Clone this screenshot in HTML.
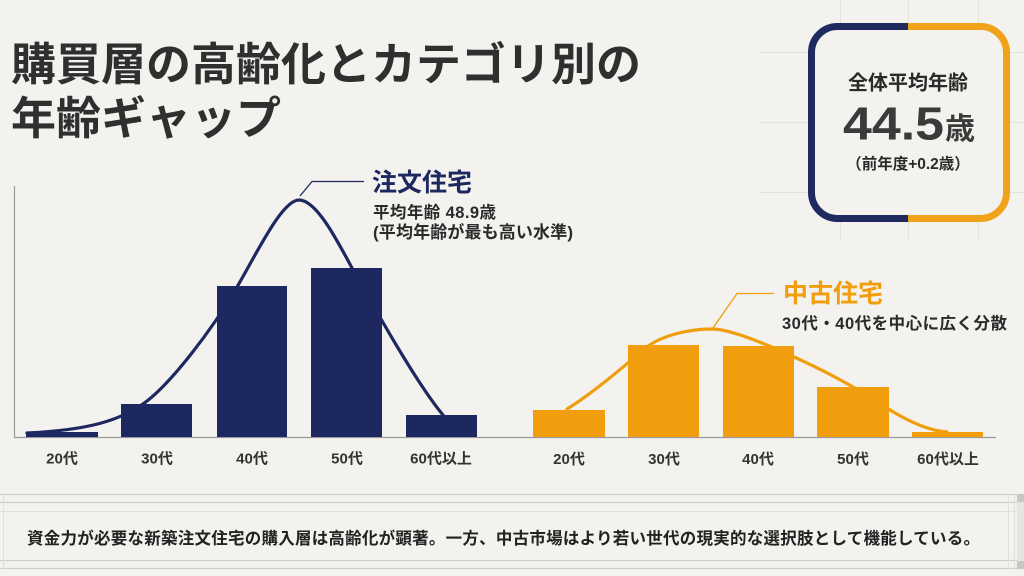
<!DOCTYPE html>
<html lang="ja">
<head>
<meta charset="utf-8">
<style>
  html,body{margin:0;padding:0;}
  body{width:1024px;height:576px;overflow:hidden;background:#f3f2ee;}
  svg{display:block;}
  .t{font-family:"Liberation Sans","Noto Sans CJK JP",sans-serif;font-weight:bold;}
</style>
</head>
<body>
<svg width="1024" height="576" viewBox="0 0 1024 576" xmlns="http://www.w3.org/2000/svg">
  <rect x="0" y="0" width="1024" height="576" fill="#f3f2ee"/>

  <!-- faint background grid near box -->
  <g stroke="#e2e1dc" stroke-width="1">
    <line x1="840.5" y1="0" x2="840.5" y2="240"/>
    <line x1="908.5" y1="0" x2="908.5" y2="240"/>
    <line x1="978.5" y1="0" x2="978.5" y2="240"/>
    <line x1="760" y1="52.5" x2="1024" y2="52.5"/>
    <line x1="760" y1="122.5" x2="1024" y2="122.5"/>
    <line x1="760" y1="192.5" x2="1024" y2="192.5"/>
  </g>

  <!-- Title -->
  <text class="t" x="11" y="80" font-size="45" fill="#2f2f2f" textLength="630" lengthAdjust="spacing">購買層の高齢化とカテゴリ別の</text>
  <text class="t" x="11" y="134" font-size="45" fill="#2f2f2f">年齢ギャップ</text>

  <!-- Summary box -->
  <defs>
    <clipPath id="cl"><rect x="800" y="10" width="108" height="220"/></clipPath>
    <clipPath id="cr"><rect x="908" y="10" width="110" height="220"/></clipPath>
  </defs>
  <rect x="811.5" y="26.5" width="195" height="192" rx="26" ry="26" fill="#f3f2ee" stroke="none"/>
  <rect x="811.5" y="26.5" width="195" height="192" rx="26" ry="26" fill="none" stroke="#1f2a5f" stroke-width="7" clip-path="url(#cl)"/>
  <rect x="811.5" y="26.5" width="195" height="192" rx="26" ry="26" fill="none" stroke="#f0a31a" stroke-width="7" clip-path="url(#cr)"/>
  <text class="t" x="908" y="89.5" font-size="20" fill="#2a2a2a" text-anchor="middle">全体平均年齢</text>
  <text class="t" x="843" y="139.5" font-size="46" fill="#3a3a3a" textLength="101" lengthAdjust="spacingAndGlyphs">44.5</text>
  <text class="t" x="945" y="139" font-size="30" fill="#3a3a3a">歳</text>
  <text class="t" x="908" y="169" font-size="15.5" fill="#2a2a2a" text-anchor="middle">（前年度+0.2歳）</text>

  <!-- Axes -->
  <line x1="14.5" y1="186" x2="14.5" y2="438" stroke="#9a9a9a" stroke-width="1.2"/>
  <line x1="14" y1="437.5" x2="996" y2="437.5" stroke="#9a9a9a" stroke-width="1.2"/>

  <!-- Left bars (navy) -->
  <g fill="#1e2860">
    <rect x="26" y="432" width="72" height="5"/>
    <rect x="121" y="404" width="71" height="33"/>
    <rect x="217" y="286" width="70" height="151"/>
    <rect x="311" y="268" width="71" height="169"/>
    <rect x="406" y="415" width="71" height="22"/>
  </g>
  <!-- Left curve -->
  <path d="M27,433 C90,430 120,420 143,404 C170,385 212,330 237,287 C257,253 282,200 299,200 C316,200 336,238 352,268 C380,318 418,385 443,415"
        fill="none" stroke="#1e2860" stroke-width="3.2" stroke-linejoin="round" stroke-linecap="round"/>
  <!-- leader -->
  <polyline points="300,196 312,181.5 364,181.5" fill="none" stroke="#1e2860" stroke-width="1.3"/>
  <text class="t" x="372" y="191" font-size="25" fill="#1e2860">注文住宅</text>
  <text class="t" x="373" y="218" font-size="16.5" fill="#2a2a2a" textLength="123" lengthAdjust="spacing">平均年齢 48.9歳</text>
  <text class="t" x="373" y="238" font-size="17" fill="#2a2a2a" textLength="200" lengthAdjust="spacing">(平均年齢が最も高い水準)</text>

  <!-- Left labels -->
  <g class="t" font-size="15" fill="#333" text-anchor="middle" font-weight="normal">
    <text x="62" y="463.5">20代</text>
    <text x="157" y="463.5">30代</text>
    <text x="252" y="463.5">40代</text>
    <text x="347" y="463.5">50代</text>
    <text x="441" y="463.5">60代以上</text>
  </g>

  <!-- Right bars (orange) -->
  <g fill="#f09e0e">
    <rect x="533" y="410" width="72" height="27"/>
    <rect x="628" y="345" width="71" height="92"/>
    <rect x="723" y="346" width="71" height="91"/>
    <rect x="817" y="387" width="72" height="50"/>
    <rect x="912" y="432" width="71" height="5"/>
  </g>
  <!-- Right curve -->
  <path d="M567,409 C590,395 620,370 643,350 C660,335 690,329 712,329 C740,329 820,368 853,387 C880,403 915,430 947,432"
        fill="none" stroke="#f09e0e" stroke-width="3.2" stroke-linejoin="round" stroke-linecap="round"/>
  <polyline points="713,328 737,293.5 774,293.5" fill="none" stroke="#f09e0e" stroke-width="1.3"/>
  <text class="t" x="783" y="302" font-size="25" fill="#f09e0e">中古住宅</text>
  <text class="t" x="782" y="329" font-size="16.5" fill="#2a2a2a" textLength="225" lengthAdjust="spacing">30代・40代を中心に広く分散</text>

  <!-- Right labels -->
  <g class="t" font-size="15" fill="#333" text-anchor="middle" font-weight="normal">
    <text x="569" y="464">20代</text>
    <text x="664" y="464">30代</text>
    <text x="758" y="464">40代</text>
    <text x="853" y="464">50代</text>
    <text x="948" y="464">60代以上</text>
  </g>

  <!-- Bottom panel lines -->
  <g stroke="#cfceca" stroke-width="1.2">
    <line x1="0" y1="494.5" x2="1024" y2="494.5"/>
    <line x1="0" y1="502.5" x2="1024" y2="502.5"/>
    <line x1="0" y1="560.5" x2="1024" y2="560.5"/>
    <line x1="0" y1="568.5" x2="1024" y2="568.5"/>
  </g>
  <g stroke="#e0dfdb" stroke-width="1">
    <line x1="0" y1="511.5" x2="1024" y2="511.5"/>
    <line x1="3.5" y1="494" x2="3.5" y2="569"/>
    <line x1="1008.5" y1="494" x2="1008.5" y2="569"/>
    <line x1="1014.5" y1="494" x2="1014.5" y2="569"/>
  </g>
  <rect x="1017" y="494" width="7" height="75" fill="#e6e5e1"/>
  <rect x="1017" y="494" width="7" height="8" fill="#c8c7c3"/>
  <rect x="1017" y="561" width="7" height="8" fill="#c8c7c3"/>

  <text class="t" x="27" y="544" font-size="16.5" fill="#222" textLength="953" lengthAdjust="spacing">資金力が必要な新築注文住宅の購入層は高齢化が顕著。一方、中古市場はより若い世代の現実的な選択肢として機能している。</text>
</svg>
</body>
</html>
